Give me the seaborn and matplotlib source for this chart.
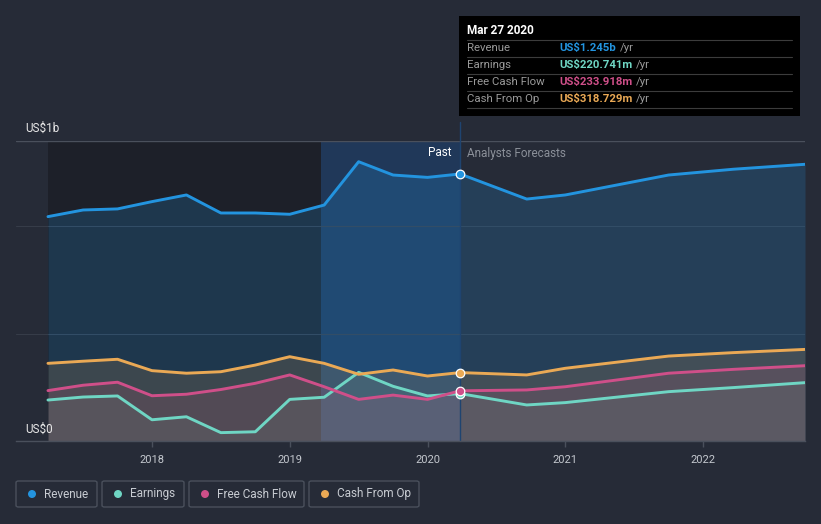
import numpy as np
import pandas as pd
import matplotlib
matplotlib.use("Agg")
import matplotlib.pyplot as plt
from matplotlib.patches import Rectangle, FancyBboxPatch, Ellipse
import seaborn as sns

# values (US$ millions, decimal years)
years = [2017.245, 2017.5, 2017.75, 2018.0, 2018.25, 2018.5, 2018.75, 2019.0,
         2019.25, 2019.5, 2019.75, 2020.0, 2020.236, 2020.72, 2021.0, 2021.75,
         2022.22, 2022.74]
revenue = [1046, 1077, 1082, 1116, 1147, 1063, 1063, 1057, 1100, 1302, 1240,
           1229, 1245, 1128, 1147, 1240, 1267, 1290]
earnings = [191, 205, 210, 99, 113, 39, 43, 194, 204, 320, 255, 210, 221, 168,
            179, 230, 249, 272]
free_cash_flow = [235, 260, 274, 211, 218, 240, 269, 308, 253, 194, 214, 194,
                  234, 238, 253, 316, 334, 351]
cash_from_op = [362, 372, 381, 328, 316, 323, 354, 393, 362, 311, 331, 303,
                319, 308, 339, 396, 412, 427]

series_names = ["Revenue", "Earnings", "Free Cash Flow", "Cash From Op"]
series_colors = ["#2394df", "#6fd6c4", "#cf4f89", "#eaa955"]
tick_years = [2018, 2019, 2020, 2021, 2022]

snapshot_date = 2020.236
snapshot_label = "Mar 27 2020"
snapshot_values = ["US$1.245b", "US$220.741m", "US$233.918m", "US$318.729m"]
past_start = 2017.245
highlight_start = 2019.23

series_values = [revenue, earnings, free_cash_flow, cash_from_op]
df = pd.DataFrame({"year": years})
for name, vals in zip(series_names, series_values):
    df[name] = vals
long_df = df.melt(id_vars="year", var_name="series", value_name="value")

BG = "#262b37"
W, H = 821, 524

sns.set_theme(style="dark")
plt.rcParams["font.family"] = ["Roboto", "DejaVu Sans"]

fig = plt.figure(figsize=(W / 100, H / 100), dpi=100, facecolor=BG)


def fx(x):
    return x / W


def fy(y):
    return 1 - y / H


ax = fig.add_axes([fx(16), fy(441), fx(805) - fx(16), fy(141) - fy(441)])
ax.set_facecolor(BG)
ax.set_xlim(2017.013, 2022.740)
ax.set_ylim(0, 1398.6)

# past regions
ax.axvspan(past_start, highlight_start, color="#1d2029", zorder=0, lw=0)
ax.axvspan(highlight_start, snapshot_date, color="#1458a8", alpha=0.3, zorder=0.5, lw=0)

# gridlines
for gy in [500, 1000]:
    ax.axhline(gy, color="#363c48", lw=0.8, zorder=1)

# area fills
fill_alphas = [0.2, 0.09, 0.15, 0.15]
for name, col, a in zip(series_names, series_colors, fill_alphas):
    ax.fill_between(df["year"], df[name], 0, color=col, alpha=a, lw=0, zorder=2)

sns.lineplot(data=long_df, x="year", y="value", hue="series",
             hue_order=series_names, palette=series_colors, linewidth=2.1,
             legend=False, errorbar=None, ax=ax, zorder=3)

# snapshot marker line and points
ax.plot([snapshot_date, snapshot_date], [0, 1398.6 + 90], color="#1f4470",
        lw=1.0, zorder=2.5, clip_on=False)
snap = df[df["year"] == snapshot_date]
for name, col in zip(series_names, series_colors):
    ax.scatter(snap["year"], snap[name], s=38, color=col, edgecolor="white",
               linewidth=0.9, zorder=5)

for s in ["left", "right", "top"]:
    ax.spines[s].set_visible(False)
ax.spines["bottom"].set_color("#4a505c")
ax.spines["bottom"].set_linewidth(1.0)
ax.axhline(1398.6, color="#4a505c", lw=1.0, zorder=1)
ax.set_yticks([])
ax.set_xticks(tick_years)
ax.set_xticklabels([str(t) for t in tick_years])
ax.tick_params(axis="x", colors="#4a505c", length=4, width=1, pad=6,
               labelcolor="#c4c8ce", labelsize=8, bottom=True, direction="out")
ax.set_xlabel("")
ax.set_ylabel("")
ax.grid(False)

# axis value labels
fig.text(fx(25), fy(128), "US$1b", color="#e8e8e8", fontsize=8.5, va="center")
fig.text(fx(25), fy(429), "US$0", color="#e8e8e8", fontsize=8.5, va="center")
fig.text(fx(451), fy(153), "Past", color="#ffffff", fontsize=8.5, va="center",
         ha="right")
fig.text(fx(467), fy(153), "Analysts Forecasts", color="#8b9099", fontsize=8.5,
         va="center", ha="left")

# tooltip
fig.patches.append(Rectangle((fx(459), fy(116)), fx(800) - fx(459),
                             fy(16) - fy(116), transform=fig.transFigure,
                             facecolor="#000000", edgecolor="none", zorder=10))
fig.text(fx(467), fy(30), snapshot_label, color="white", fontsize=8.5,
         fontweight="bold", va="center", zorder=11)
row_y = [48, 65, 82, 99]
for i, (name, val, col) in enumerate(zip(series_names, snapshot_values, series_colors)):
    y = row_y[i]
    fig.add_artist(plt.Line2D([fx(467), fx(792)], [fy(y - 8), fy(y - 8)],
                              transform=fig.transFigure, color="#3c3c3c",
                              lw=0.8, zorder=11))
    fig.text(fx(467), fy(y), name, color="#9a9a9a", fontsize=8.2, va="center",
             zorder=11)
    t = fig.text(fx(559), fy(y), val, color=col, fontsize=8.2, fontweight="bold",
                 va="center", zorder=11)
    fig.canvas.draw()
    bb = t.get_window_extent()
    fig.text(bb.x1 / W + fx(4), fy(y), "/yr", color="#9a9a9a", fontsize=8.2,
             va="center", zorder=11)
fig.add_artist(plt.Line2D([fx(467), fx(792)], [fy(108), fy(108)],
                          transform=fig.transFigure, color="#3c3c3c", lw=0.8,
                          zorder=11))

# legend boxes
boxes = [(16, 97), (102, 184), (189, 304), (309, 419)]
for (x0, x1), name, col in zip(boxes, series_names, series_colors):
    fig.patches.append(FancyBboxPatch((fx(x0), fy(507)), fx(x1) - fx(x0),
                                      fy(481) - fy(507),
                                      boxstyle="round,pad=0,rounding_size=0.003",
                                      transform=fig.transFigure,
                                      facecolor="none", edgecolor="#4a505c",
                                      lw=1.0))
    fig.patches.append(Ellipse((fx(x0 + 16), fy(494)), fx(8), 8 / H,
                               transform=fig.transFigure, facecolor=col,
                               edgecolor="none"))
    fig.text(fx(x0 + 28), fy(494), name, color="#c8ccd2", fontsize=8.5,
             va="center")

fig.savefig("out.png", dpi=100, facecolor=BG)
